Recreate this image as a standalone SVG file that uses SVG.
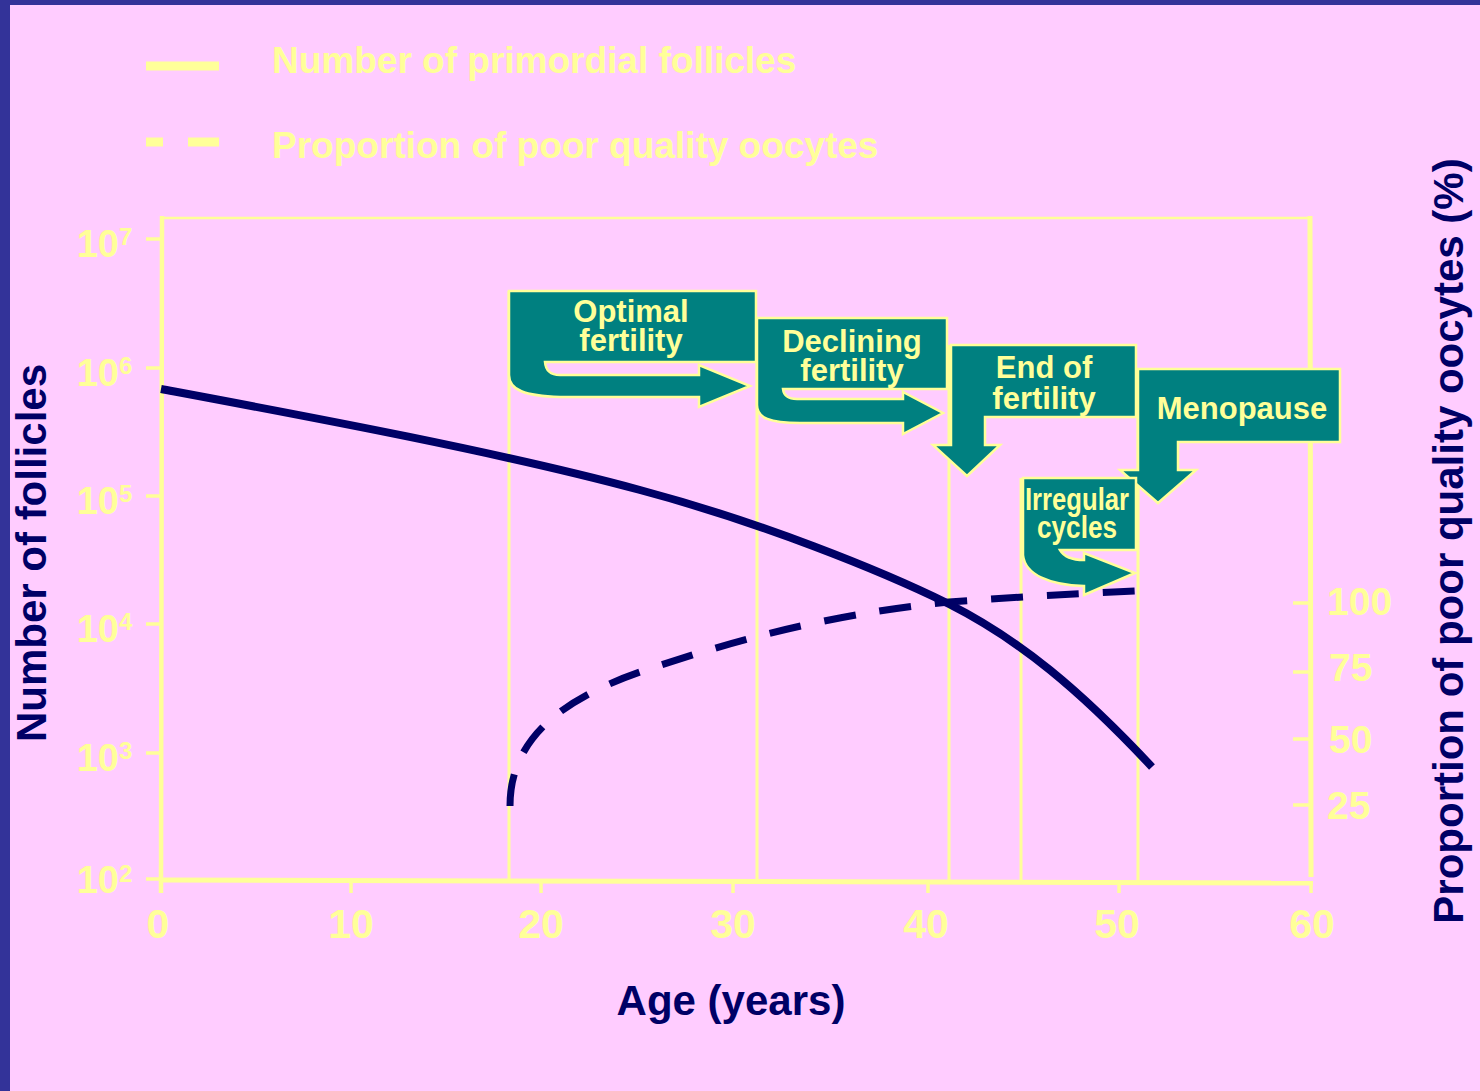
<svg xmlns="http://www.w3.org/2000/svg" width="1480" height="1091" viewBox="0 0 1480 1091">
<style>
.t{font-family:"Liberation Sans",Arial,sans-serif;font-weight:bold;}
.y{fill:#FFFF99;}
.n{fill:#000066;}
.ax{stroke:#FFFF99;fill:none;}
.box{fill:#008080;stroke:#FFFF99;stroke-width:2.5;stroke-linejoin:miter;}
.bt{font-family:"Liberation Sans",Arial,sans-serif;font-weight:bold;font-size:31px;fill:#FFFF99;text-anchor:middle;}
.lbl{font-size:38px;}
.sup{font-size:24px;}
</style>
<rect x="0" y="0" width="1480" height="1091" fill="#FFCCFF"/>
<rect x="0" y="0" width="1480" height="5" fill="#333399"/>
<rect x="0" y="0" width="10" height="1091" fill="#333399"/>

<g id="legend">
  <line x1="146" y1="66" x2="219" y2="66" stroke="#FFFF99" stroke-width="9"/>
  <line x1="146" y1="142" x2="163" y2="142" stroke="#FFFF99" stroke-width="9"/>
  <line x1="188" y1="142" x2="219" y2="142" stroke="#FFFF99" stroke-width="9"/>
  <text class="t y" x="272" y="73" font-size="37">Number of primordial follicles</text>
  <text class="t y" x="272" y="158" font-size="37">Proportion of poor quality oocytes</text>
</g>

<g id="axes">
  <line class="ax" x1="161" y1="218" x2="1311" y2="218" stroke-width="2.5"/>
  <line class="ax" x1="162" y1="216" x2="161" y2="893" stroke-width="4.5"/>
  <line class="ax" x1="1310" y1="216" x2="1311" y2="877" stroke-width="5"/>
  <line class="ax" x1="160" y1="880" x2="1313" y2="883" stroke-width="5"/>
  <g stroke="#FFFF99" stroke-width="3.5">
    <line x1="146" y1="239" x2="162" y2="239"/>
    <line x1="146" y1="368" x2="162" y2="368"/>
    <line x1="146" y1="496" x2="162" y2="496"/>
    <line x1="146" y1="624" x2="162" y2="624"/>
    <line x1="146" y1="753" x2="162" y2="753"/>
    <line x1="146" y1="879" x2="162" y2="879"/>
    <line x1="351" y1="881" x2="351" y2="893"/>
    <line x1="541" y1="881" x2="541" y2="893"/>
    <line x1="733" y1="882" x2="733" y2="893"/>
    <line x1="928" y1="882" x2="928" y2="893"/>
    <line x1="1119" y1="882" x2="1119" y2="893"/>
    <line x1="1311" y1="882" x2="1311" y2="893"/>
    <line x1="1293" y1="603" x2="1311" y2="603"/>
    <line x1="1293" y1="672" x2="1311" y2="672"/>
    <line x1="1293" y1="739" x2="1311" y2="739"/>
    <line x1="1293" y1="805" x2="1311" y2="805"/>
  </g>
  <g stroke="#FFFF99" stroke-width="3">
    <line x1="509" y1="291" x2="509" y2="880"/>
    <line x1="757" y1="318" x2="757" y2="880"/>
    <line x1="949" y1="345" x2="949" y2="881"/>
    <line x1="1021" y1="478" x2="1021" y2="881"/>
    <line x1="1138" y1="369" x2="1138" y2="882"/>
  </g>
  <g class="t y">
    <text class="lbl" x="119" y="257" text-anchor="end">10</text><text class="sup" x="119" y="245">7</text>
    <text class="lbl" x="119" y="386" text-anchor="end">10</text><text class="sup" x="119" y="374">6</text>
    <text class="lbl" x="119" y="514" text-anchor="end">10</text><text class="sup" x="119" y="502">5</text>
    <text class="lbl" x="119" y="642" text-anchor="end">10</text><text class="sup" x="119" y="630">4</text>
    <text class="lbl" x="119" y="771" text-anchor="end">10</text><text class="sup" x="119" y="759">3</text>
    <text class="lbl" x="119" y="893" text-anchor="end">10</text><text class="sup" x="119" y="882">2</text>
  </g>
  <g class="t y" font-size="41" text-anchor="middle">
    <text x="158" y="938">0</text>
    <text x="351" y="938">10</text>
    <text x="541" y="938">20</text>
    <text x="733" y="938">30</text>
    <text x="926" y="938">40</text>
    <text x="1117" y="938">50</text>
    <text x="1312" y="938">60</text>
  </g>
  <g class="t y" font-size="39">
    <text x="1327" y="615">100</text>
    <text x="1329" y="681">75</text>
    <text x="1329" y="753">50</text>
    <text x="1327" y="819">25</text>
  </g>
  <text class="t n" font-size="42" text-anchor="middle" transform="translate(46,553) rotate(-90)">Number of follicles</text>
  <text class="t n" font-size="42" text-anchor="middle" transform="translate(1463,541) rotate(-90)">Proportion of poor quality oocytes (%)</text>
  <text class="t n" font-size="42" text-anchor="middle" x="731" y="1015">Age (years)</text>
</g>

<g id="connectors">
  <path d="M161,389 C300,415 500,452 640,490 C760,522 880,570 949,604 C1020,640 1080,690 1152,767" fill="none" stroke="#000066" stroke-width="8"/>
  <path d="M510,806 C510,740 560,700 640,672 C720,645 820,615 949,602 C1030,596 1090,593 1135,591" fill="none" stroke="#000066" stroke-width="7" stroke-dasharray="32 24"/>
</g>

<g id="node-optimal">
  <path class="box" d="M509,291 H756 V362 H545 Q546,375 560,375 H699 V365 L750,386 L699,407 V397 H560 C525,396 509,390 509,375 Z"/>
  <text class="bt" x="631" y="322">Optimal</text>
  <text class="bt" x="631" y="351">fertility</text>
</g>

<g id="node-declining">
  <path class="box" d="M757,318 H947 V389 H783 Q784,399 797,399 H903 V392 L943,413 L903,434 V423 H800 C770,423 757,418 757,405 Z"/>
  <text class="bt" x="852" y="352">Declining</text>
  <text class="bt" x="852" y="381">fertility</text>
</g>

<g id="node-end">
  <path class="box" d="M951,345 H1136 V417 H985 V445 H1000 L967,476 L933,445 H951 Z"/>
  <text class="bt" x="1044" y="378">End of</text>
  <text class="bt" x="1044" y="409">fertility</text>
</g>

<g id="node-menopause">
  <path class="box" d="M1138,369 H1340 V442 H1178 V470 H1196 L1158,503 L1120,470 H1138 Z"/>
  <text class="bt" x="1242" y="419">Menopause</text>
</g>

<g id="node-irregular">
  <path class="box" d="M1023,478 H1136 V550 H1060 Q1066,560 1084,560 V553 L1135,573 L1084,595 V586 C1050,585 1025,575 1023,555 Z"/>
  <text class="bt" x="1077" y="510" textLength="104" lengthAdjust="spacingAndGlyphs">Irregular</text>
  <text class="bt" x="1077" y="538" textLength="80" lengthAdjust="spacingAndGlyphs">cycles</text>
</g>
</svg>
